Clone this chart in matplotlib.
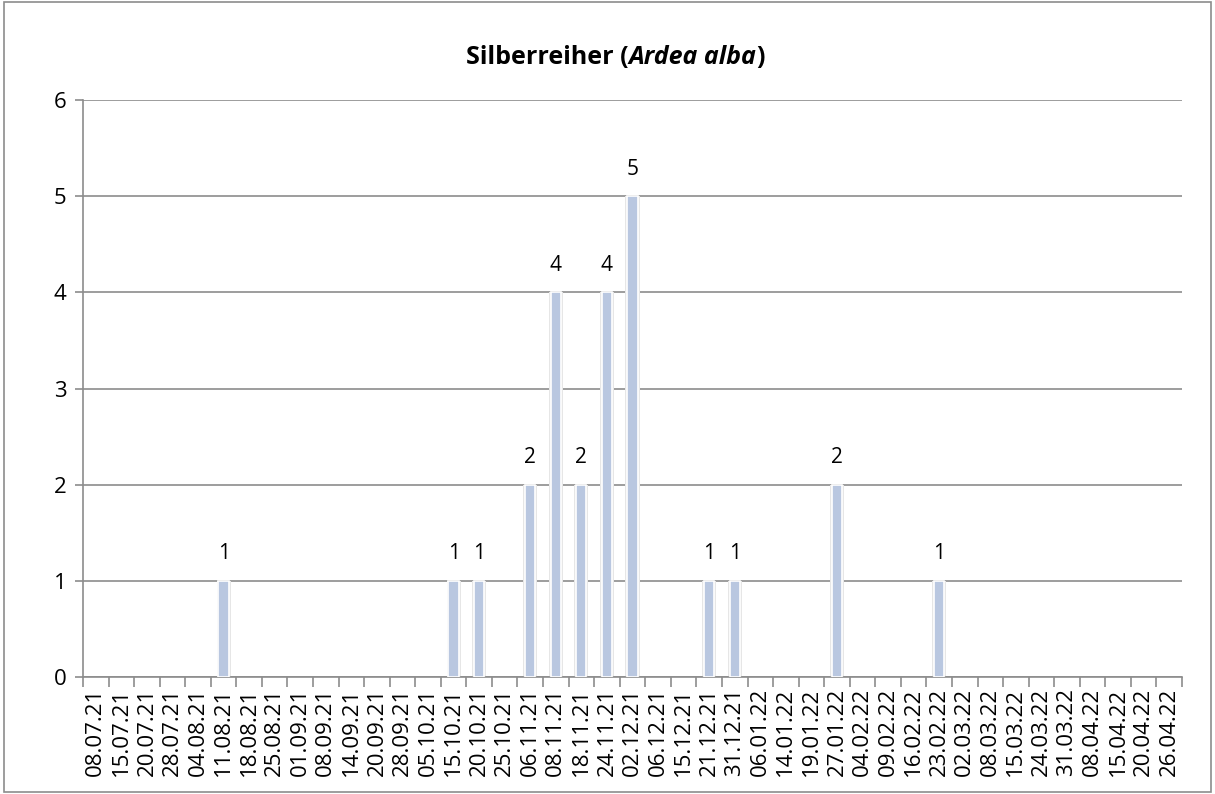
import numpy as np
import matplotlib
matplotlib.use("Agg")
import matplotlib.pyplot as plt
from matplotlib.patches import Rectangle

# Silberreiher counts per survey date
dates = ["08.07.21", "15.07.21", "20.07.21", "28.07.21", "04.08.21", "11.08.21",
         "18.08.21", "25.08.21", "01.09.21", "08.09.21", "14.09.21", "20.09.21",
         "28.09.21", "05.10.21", "15.10.21", "20.10.21", "25.10.21", "06.11.21",
         "08.11.21", "18.11.21", "24.11.21", "02.12.21", "06.12.21", "15.12.21",
         "21.12.21", "31.12.21", "06.01.22", "14.01.22", "19.01.22", "27.01.22",
         "04.02.22", "09.02.22", "16.02.22", "23.02.22", "02.03.22", "08.03.22",
         "15.03.22", "24.03.22", "31.03.22", "08.04.22", "15.04.22", "20.04.22",
         "26.04.22"]
counts = [0, 0, 0, 0, 0, 1,
          0, 0, 0, 0, 0, 0,
          0, 0, 1, 1, 0, 2,
          4, 2, 4, 5, 0, 0,
          1, 1, 0, 0, 0, 2,
          0, 0, 0, 1, 0, 0,
          0, 0, 0, 0, 0, 0,
          0]

plt.rcParams['font.family'] = ['Open Sans', 'DejaVu Sans']

fig = plt.figure(figsize=(12.15, 7.94), dpi=100)
ax = fig.add_axes([83/1215, 1 - 677/794, (1182-83)/1215, (677-100)/794])

x = np.arange(len(dates))
counts = np.array(counts)
nz = counts > 0  # zero counts get no bar at all
# soft glow behind the bars
ax.bar(x[nz], counts[nz], width=0.55, color="#e6e6e6", zorder=2)
ax.bar(x[nz], counts[nz], width=0.4, color="#b9c7e0", edgecolor="white", linewidth=1.2, zorder=3)

for xi, c in zip(x[nz], counts[nz]):
    ax.annotate(str(c), (xi, c), xytext=(0, 12), textcoords="offset points",
                ha="center", va="bottom", fontsize=15)

ax.set_xlim(-0.5, len(dates) - 0.5)
ax.set_ylim(0, 6)
ax.set_yticks(range(7))
ax.grid(axis="y", color="#8c8c8c", linewidth=1.2, zorder=1)
ax.set_axisbelow(True)

ax.set_xticks(x)
ax.set_xticklabels(dates, rotation=90, fontsize=16)
ax.set_xticks(np.arange(-0.5, len(dates)), minor=True)
ax.tick_params(axis="x", which="major", length=0, pad=8)
ax.tick_params(axis="x", which="minor", length=7, color="#8c8c8c", width=1.2)
ax.tick_params(axis="y", length=6, color="#8c8c8c", width=1.2, labelsize=16, pad=6)

for s in ["top", "right"]:
    ax.spines[s].set_visible(False)
for s in ["left", "bottom"]:
    ax.spines[s].set_color("#8c8c8c")
    ax.spines[s].set_linewidth(1.2)

# outer chart border
fig.patches.append(Rectangle((0.003, 0.003), 0.994, 0.994, transform=fig.transFigure,
                             fill=False, edgecolor="#8c8c8c", linewidth=1.2))

# title with italic species name
parts = [("Silberreiher (", "normal"), ("Ardea alba", "italic"), (")", "normal")]
fig.canvas.draw()
r = fig.canvas.get_renderer()
texts = []
for s, st in parts:
    t = fig.text(0, 1 - 57/794, s, fontsize=18, fontweight="bold", style=st,
                 ha="left", va="center")
    texts.append(t)
widths = [t.get_window_extent(r).width for t in texts]
xpos = 615 - sum(widths) / 2
for t, w in zip(texts, widths):
    t.set_x(xpos / 1215)
    xpos += w

fig.savefig("out.png", dpi=100)
